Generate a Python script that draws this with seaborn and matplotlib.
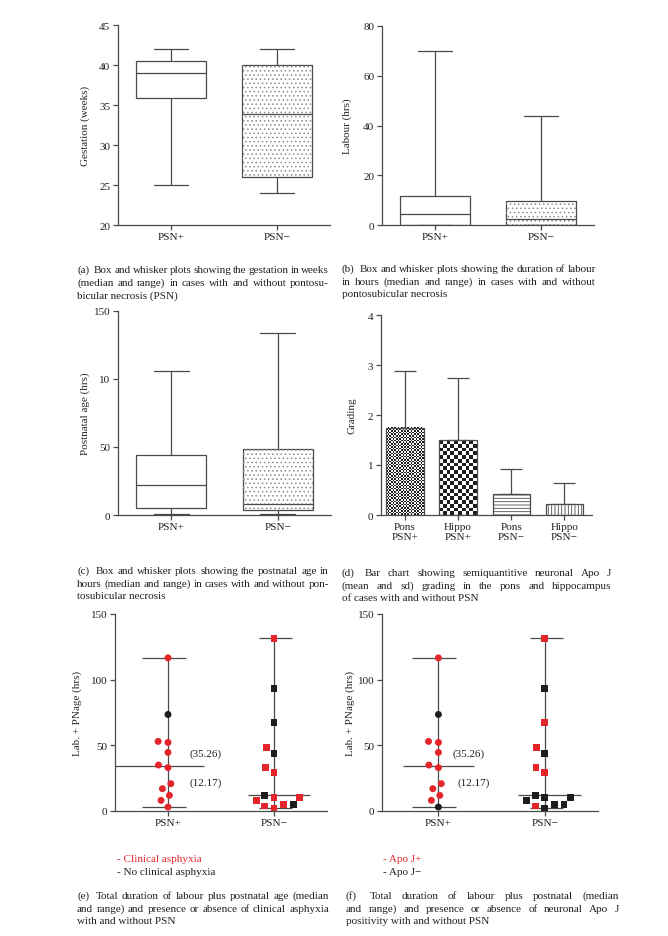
import numpy as np
import pandas as pd
import matplotlib
matplotlib.use('Agg')
import matplotlib.pyplot as plt
from matplotlib.colors import ListedColormap
from matplotlib.patches import PathPatch
import seaborn as sns

# values
groups = ['PSN+', 'PSN-']
group_labels = ['PSN+', 'PSN\u2212']

# five-number summaries: min, q1, median, q3, max
gest_pos = [25, 35.9, 39, 40.5, 42]
gest_neg = [24, 26, 33.9, 40, 42]
labour_pos = [0, 0, 4.3, 11.5, 70]
labour_neg = [0, 0, 2.3, 9.8, 43.9]
pnage_pos = [0.5, 4.8, 22.3, 43.9, 106]
pnage_neg = [0.5, 3.6, 8.1, 48.5, 134]

grade_labels = ['Pons\nPSN+', 'Hippo\nPSN+', 'Pons\nPSN\u2212', 'Hippo\nPSN\u2212']
grade_mean = [1.75, 1.5, 0.43, 0.23]
grade_sd = [1.13, 1.25, 0.49, 0.41]

# labour + postnatal age per case
total_pos = [116.6, 73.5, 52.2, 53.0, 44.6, 33.0, 35.0, 20.8, 17.0, 11.9, 8.1, 3.0]
total_neg = [131.5, 93.5, 67.4, 48.4, 44.1, 29.6, 32.9, 11.9, 10.1, 7.9, 4.8, 2.3, 3.8, 4.8, 10.1]
# clinical asphyxia (panel e)
asph_pos = ['yes', 'no', 'yes', 'yes', 'yes', 'yes', 'yes', 'yes', 'yes', 'yes', 'yes', 'yes']
asph_neg = ['yes', 'no', 'no', 'yes', 'no', 'yes', 'yes', 'no', 'yes', 'yes', 'yes', 'yes', 'yes', 'no', 'yes']
# neuronal Apo J (panel f)
apoj_pos = ['yes', 'no', 'yes', 'yes', 'yes', 'yes', 'yes', 'yes', 'yes', 'yes', 'yes', 'no']
apoj_neg = ['yes', 'no', 'yes', 'yes', 'no', 'yes', 'yes', 'no', 'no', 'no', 'no', 'no', 'yes', 'no', 'no']

RED = '#e2262b'
DARK = '#1e1e1e'
LINE = '#4a4a4a'
TXT = '#231f20'
FS = 8

sns.set_style('ticks')
plt.rcParams['font.family'] = ['Liberation Serif', 'DejaVu Serif']
plt.rcParams['font.size'] = FS
plt.rcParams['text.color'] = TXT
plt.rcParams['axes.edgecolor'] = LINE
plt.rcParams['axes.linewidth'] = 0.9
plt.rcParams['xtick.color'] = LINE
plt.rcParams['ytick.color'] = LINE
plt.rcParams['xtick.labelcolor'] = TXT
plt.rcParams['ytick.labelcolor'] = TXT
plt.rcParams['hatch.linewidth'] = 0.6

W, H = 668, 937
fig = plt.figure(figsize=(W / 100, H / 100), dpi=100)


def add_ax(l, t, r, b):
    return fig.add_axes([l / W, 1 - b / H, (r - l) / W, (b - t) / H])


def style_ax(ax, ylabel, label_x):
    sns.despine(ax=ax)
    ax.tick_params(axis='both', length=3.5, width=0.9, labelsize=FS)
    ax.tick_params(axis='x', pad=1.5)
    ax.tick_params(axis='y', pad=2)
    ax.set_xlabel('')
    ax.set_ylabel(ylabel, fontsize=FS, va='center')
    pos = ax.get_position()
    ax.yaxis.set_label_coords((label_x / W - pos.x0) / pos.width, 0.5)


def box_panel(ax, pos, neg, ylim, yticks, ylabel, label_x, yticklabels=None):
    df = pd.DataFrame({'group': ['PSN+'] * len(pos) + ['PSN-'] * len(neg),
                       'value': pos + neg})
    sns.boxplot(data=df, x='group', y='value', order=groups, whis=(0, 100),
                width=0.66, color='white', linecolor=LINE, linewidth=0.9,
                fliersize=0, ax=ax)
    box = ax.patches[1]
    ax.add_patch(PathPatch(box.get_path(), transform=box.get_transform(),
                           facecolor='none', edgecolor='#8c8c8c', lw=0,
                           hatch='....', zorder=box.get_zorder() + 0.05))
    ax.set_xlim(-0.5, 1.5)
    ax.set_ylim(*ylim)
    ax.set_yticks(yticks)
    if yticklabels is not None:
        ax.set_yticklabels(yticklabels)
    ax.set_xticks([0, 1])
    ax.set_xticklabels(group_labels)
    style_ax(ax, ylabel, label_x)


ax_a = add_ax(118, 26, 330, 226)
box_panel(ax_a, gest_pos, gest_neg, (20, 45), [20, 25, 30, 35, 40, 45],
          'Gestation (weeks)', 85)

ax_b = add_ax(382, 27, 594, 226)
box_panel(ax_b, labour_pos, labour_neg, (0, 80), [0, 20, 40, 60, 80],
          'Labour (hrs)', 347)

ax_c = add_ax(118, 312, 331, 516)
box_panel(ax_c, pnage_pos, pnage_neg, (0, 150), [0, 50, 100, 150],
          'Postnatal age (hrs)', 85, ['0', '50', '10', '150'])

# (d) bar chart
ax_d = add_ax(381, 316, 592, 516)
df_d = pd.DataFrame({'region': grade_labels, 'mean': grade_mean, 'sd': grade_sd})
sns.barplot(data=df_d, x='region', y='mean', order=grade_labels, color='white',
            saturation=1, edgecolor=LINE, linewidth=0.9, width=0.7,
            errorbar=None, ax=ax_d)
ax_d.errorbar(np.arange(len(grade_mean)), df_d['mean'],
              yerr=[np.zeros(len(grade_sd)), df_d['sd']], fmt='none',
              ecolor=LINE, elinewidth=0.9, capsize=8, capthick=0.9, zorder=0.5)
ax_d.set_xlim(-0.45, 3.52)
ax_d.set_ylim(0, 4)
ax_d.set_yticks([0, 1, 2, 3, 4])
style_ax(ax_d, 'Grading', 352)

bars = ax_d.patches
bars[2].set_hatch('-----')
bars[3].set_hatch('|||||')
pxx = ax_d.transData.transform((1, 0))[0] - ax_d.transData.transform((0, 0))[0]
pxy = ax_d.transData.transform((0, 1))[1] - ax_d.transData.transform((0, 0))[1]
checker_cmap = ListedColormap(['white', DARK])
for bar, cell in [(bars[0], 1.6), (bars[1], 3.8)]:
    x0, y0 = bar.get_x(), bar.get_y()
    w, h = bar.get_width(), bar.get_height()
    nx = max(1, int(round(w * pxx / cell)))
    ny = max(1, int(round(h * pxy / cell)))
    grid = np.add.outer(np.arange(ny), np.arange(nx)) % 2
    bar.set_facecolor('none')
    ax_d.imshow(grid, cmap=checker_cmap, extent=(x0, x0 + w, y0, y0 + h),
                origin='lower', aspect='auto', interpolation='nearest',
                clip_path=bar, zorder=bar.get_zorder() - 0.1)
ax_d.set_xlim(-0.45, 3.52)
ax_d.set_ylim(0, 4)


# (e), (f) scatter with median and range
def swarm_panel(ax, st_pos, st_neg, label_x, med_pos_ext, notes):
    df = pd.DataFrame({'group': ['PSN+'] * len(total_pos) + ['PSN-'] * len(total_neg),
                       'value': total_pos + total_neg,
                       'status': st_pos + st_neg})
    pal = {'yes': RED, 'no': DARK}
    for g, mk in [('PSN+', 'o'), ('PSN-', 's')]:
        sns.swarmplot(data=df[df['group'] == g], x='group', y='value', order=groups,
                      hue='status', palette=pal, marker=mk, size=5,
                      linewidth=1.8, edgecolor='none', legend=False, ax=ax, zorder=3)
    caps = [(-0.25, 0.17), (-0.14, 0.17)]
    meds = [med_pos_ext, (-0.25, 0.34)]
    for i, g in enumerate(groups):
        vals = df.loc[df['group'] == g, 'value']
        lo, hi, med = vals.min(), vals.max(), vals.median()
        ax.vlines(i, lo, hi, color=LINE, lw=0.9, zorder=1)
        ax.hlines([lo, hi], i + caps[i][0], i + caps[i][1], color=LINE, lw=0.9, zorder=1)
        ax.hlines(med, i + meds[i][0], i + meds[i][1], color=LINE, lw=0.9, zorder=1)
    for x, y, s in notes:
        ax.text(x, y, s, ha='center', va='center', fontsize=FS)
    ax.set_ylim(0, 150)
    ax.set_yticks([0, 50, 100, 150])
    ax.set_xticks([0, 1])
    ax.set_xticklabels(group_labels)
    style_ax(ax, 'Lab. + PNage (hrs)', label_x)


ax_e = add_ax(115, 615, 327, 812)
swarm_panel(ax_e, asph_pos, asph_neg, 77, (-0.5, 0.34),
            [(0.35, 44, '(35.26)'), (0.36, 22, '(12.17)')])
ax_e.set_xlim(-0.5, 1.5)

ax_f = add_ax(382, 615, 598, 812)
swarm_panel(ax_f, apoj_pos, apoj_neg, 350, (-0.33, 0.33),
            [(0.28, 44, '(35.26)'), (0.33, 22, '(12.17)')])
ax_f.set_xlim(-0.53, 1.5)

# legends under (e) and (f)
for x, lines in [(117, [('- Clinical asphyxia', RED), ('- No clinical asphyxia', TXT)]),
                 (383, [('- Apo J+', RED), ('- Apo J\u2212', TXT)])]:
    for i, (s, c) in enumerate(lines):
        fig.text(x / W, 1 - (860 + 13 * i) / H, s, color=c, fontsize=FS,
                 ha='left', va='center')

# captions, justified like the printed page
captions = [
    (77, 329, 270, ['(a) Box and whisker plots showing the gestation in weeks',
                    '(median and range) in cases with and without pontosu-',
                    'bicular necrosis (PSN)']),
    (342, 596, 269, ['(b) Box and whisker plots showing the duration of labour',
                     'in hours (median and range) in cases with and without',
                     'pontosubicular necrosis']),
    (77, 329, 571, ['(c) Box and whisker plots showing the postnatal age in',
                    'hours (median and range) in cases with and without pon-',
                    'tosubicular necrosis']),
    (342, 611, 573, ['(d) Bar chart showing semiquantitive neuronal Apo J',
                     '(mean and sd) grading in the pons and hippocampus',
                     'of cases with and without PSN']),
    (77, 329, 896, ['(e) Total duration of labour plus postnatal age (median',
                    'and range) and presence or absence of clinical asphyxia',
                    'with and without PSN']),
    (346, 619, 896, ['(f) Total duration of labour plus postnatal (median',
                     'and range) and presence or absence of neuronal Apo J',
                     'positivity with and without PSN']),
]
renderer = fig.canvas.get_renderer()
cap_fs = 8
for x0, x1, y, lines in captions:
    for i, line in enumerate(lines):
        yy = 1 - (y + 3 + 12.7 * i) / H
        words = line.split(' ')
        if i == len(lines) - 1:
            fig.text(x0 / W, yy, line, fontsize=cap_fs, ha='left', va='baseline')
            continue
        texts = [fig.text(0, yy, s, fontsize=cap_fs, ha='left', va='baseline')
                 for s in words]
        widths = [t.get_window_extent(renderer).width for t in texts]
        extra = 3 if i == 0 else 0
        gap = (x1 - x0 - sum(widths) - extra) / (len(words) - 1)
        x = x0
        for j, (t, w) in enumerate(zip(texts, widths)):
            t.set_x(x / W)
            x += w + gap + (extra if (i == 0 and j == 0) else 0)

fig.savefig('out.png', dpi=100)
